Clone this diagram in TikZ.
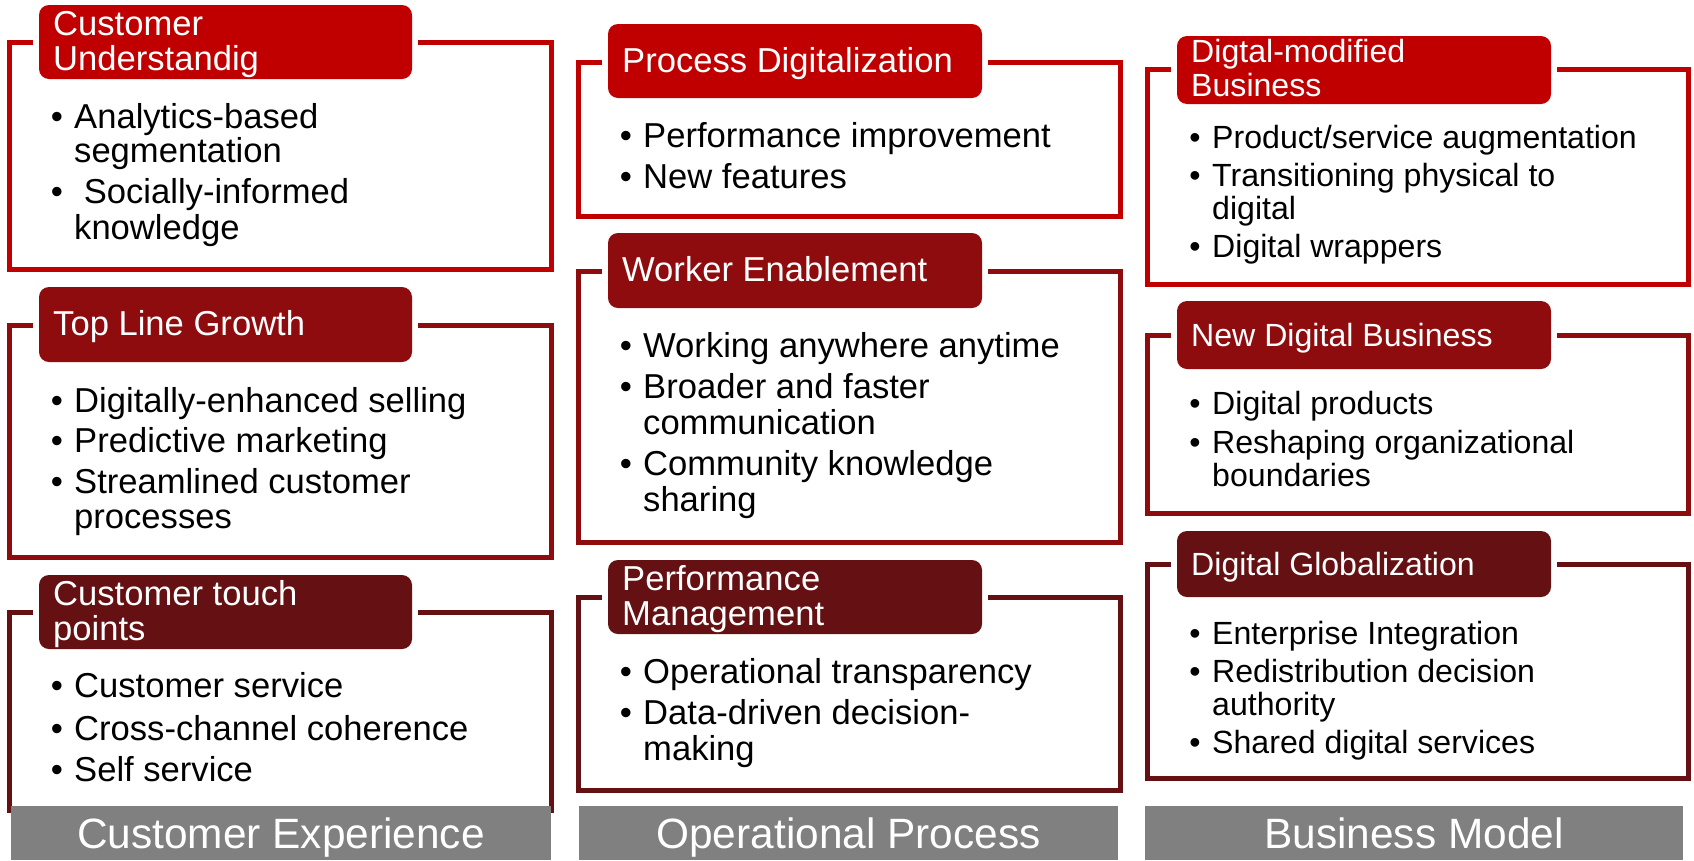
\documentclass[tikz,border=0pt]{standalone}
\usepackage{fontspec}
\setmainfont{Liberation Sans}
\definecolor{rA}{RGB}{192,0,0}
\definecolor{rB}{RGB}{142,12,14}
\definecolor{rC}{RGB}{101,16,18}
\definecolor{barG}{RGB}{128,128,128}
\newcommand\fA{\fontsize{34.6}{36}\selectfont}
\newcommand\fB{\fontsize{32.1}{34}\selectfont}
\newcommand\fG{\fontsize{42.4}{44}\selectfont}
% #1 colour, #2 x1, #3 x2, #4 ytop, #5 ybot, #6 hx1, #7 hx2, #8 hy1, #9 hy2
\newcommand\panel[9]{%
  \draw[frame, draw=#1] (#2,#4) rectangle (#3,#5);
  \fill[white] (#6-6,#8-6) rectangle (#7+6,#9+6);
  \fill[#1, rounded corners=10pt] (#6,#8) rectangle (#7,#9);
}
\tikzset{
  frame/.style={line width=5pt},
  hd/.style={anchor=base west, inner sep=0pt, text=white, font=\fA},
  hdb/.style={anchor=base west, inner sep=0pt, text=white, font=\fB},
  it/.style={anchor=base west, inner sep=0pt, text=black, font=\fA},
  itb/.style={anchor=base west, inner sep=0pt, text=black, font=\fB},
  bl/.style={anchor=base, inner sep=0pt, text=black, font=\fA},
  blb/.style={anchor=base, inner sep=0pt, text=black, font=\fB},
  bar/.style={fill=barG},
  barlbl/.style={anchor=base, inner sep=0pt, text=white, font=\fG},
}
\begin{document}
\begin{tikzpicture}[x=1pt,y=-1pt]
\useasboundingbox[fill=white] (0,0) rectangle (1694,860);

% ---------------- Column 1 ----------------
\panel{rA}{9}{551}{42}{269}{39}{412}{5}{79}
\panel{rB}{9}{551}{325}{557}{39}{412}{287}{362}
\panel{rC}{9}{551}{612}{810}{39}{412}{575}{649}

\node[hd] (a1h1) at (53,35) {Customer};
\node[hd] (a1h2) at (53,70) {Understandig};
\node[bl] (a1b1) at (57,128) {•};
\node[it] (a1t1) at (74,128) {Analytics-based};
\node[it] (a1t2) at (74,162) {segmentation};
\node[bl] (a1b2) at (57,203) {•};
\node[it] (a1t3) at (74,203) {\ Socially-informed};
\node[it] (a1t4) at (74,239) {knowledge};

\node[hd] (a2h1) at (53,335) {Top Line Growth};
\node[bl] (a2b1) at (57,412) {•};
\node[it] (a2t1) at (74,412) {Digitally-enhanced selling};
\node[bl] (a2b2) at (57,452) {•};
\node[it] (a2t2) at (74,452) {Predictive marketing};
\node[bl] (a2b3) at (57,493) {•};
\node[it] (a2t3) at (74,493) {Streamlined customer};
\node[it] (a2t4) at (74,528) {processes};

\node[hd] (a3h1) at (53,605) {Customer touch};
\node[hd] (a3h2) at (53,640) {points};
\node[bl] (a3b1) at (57,697) {•};
\node[it] (a3t1) at (74,697) {Customer service};
\node[bl] (a3b2) at (57,740) {•};
\node[it] (a3t2) at (74,740) {Cross-channel coherence};
\node[bl] (a3b3) at (57,781) {•};
\node[it] (a3t3) at (74,781) {Self service};

\fill[bar] (11,806) rectangle (551,860);
\node[barlbl] (abar) at (281,848) {Customer Experience};

% ---------------- Column 2 ----------------
\panel{rA}{578}{1120}{62}{216}{608}{982}{24}{98}
\panel{rB}{578}{1120}{271}{542}{608}{982}{233}{308}
\panel{rC}{578}{1120}{597}{790}{608}{982}{560}{634}

\node[hd] (b1h1) at (622,72) {Process Digitalization};
\node[bl] (b1b1) at (626,147) {•};
\node[it] (b1t1) at (643,147) {Performance improvement};
\node[bl] (b1b2) at (626,188) {•};
\node[it] (b1t2) at (643,188) {New features};

\node[hd] (b2h1) at (622,281) {Worker Enablement};
\node[bl] (b2b1) at (626,357) {•};
\node[it] (b2t1) at (643,357) {Working anywhere anytime};
\node[bl] (b2b2) at (626,398) {•};
\node[it] (b2t2) at (643,398) {Broader and faster};
\node[it] (b2t3) at (643,434) {communication};
\node[bl] (b2b3) at (626,475) {•};
\node[it] (b2t4) at (643,475) {Community knowledge};
\node[it] (b2t5) at (643,511) {sharing};

\node[hd] (b3h1) at (622,590) {Performance};
\node[hd] (b3h2) at (622,625) {Management};
\node[bl] (b3b1) at (626,683) {•};
\node[it] (b3t1) at (643,683) {Operational transparency};
\node[bl] (b3b2) at (626,724) {•};
\node[it] (b3t2) at (643,724) {Data-driven decision-};
\node[it] (b3t3) at (643,760) {making};

\fill[bar] (579,806) rectangle (1118,860);
\node[barlbl] (bbar) at (848.5,848) {Operational Process};

% ---------------- Column 3 ----------------
\panel{rA}{1147}{1688}{69}{284}{1177}{1551}{36}{104}
\panel{rB}{1147}{1688}{335}{513}{1177}{1551}{301}{369}
\panel{rC}{1147}{1688}{564}{778}{1177}{1551}{531}{597}

\node[hdb] (c1h1) at (1191,62) {Digtal-modified};
\node[hdb] (c1h2) at (1191,96) {Business};
\node[blb] (c1b1) at (1195,148) {•};
\node[itb] (c1t1) at (1212,148) {Product/service augmentation};
\node[blb] (c1b2) at (1195,186) {•};
\node[itb] (c1t2) at (1212,186) {Transitioning physical to};
\node[itb] (c1t3) at (1212,219) {digital};
\node[blb] (c1b3) at (1195,257) {•};
\node[itb] (c1t4) at (1212,257) {Digital wrappers};

\node[hdb] (c2h1) at (1191,346) {New Digital Business};
\node[blb] (c2b1) at (1195,414) {•};
\node[itb] (c2t1) at (1212,414) {Digital products};
\node[blb] (c2b2) at (1195,453) {•};
\node[itb] (c2t2) at (1212,453) {Reshaping organizational};
\node[itb] (c2t3) at (1212,486) {boundaries};

\node[hdb] (c3h1) at (1191,575) {Digital Globalization};
\node[blb] (c3b1) at (1195,644) {•};
\node[itb] (c3t1) at (1212,644) {Enterprise Integration};
\node[blb] (c3b2) at (1195,682) {•};
\node[itb] (c3t2) at (1212,682) {Redistribution decision};
\node[itb] (c3t3) at (1212,715) {authority};
\node[blb] (c3b3) at (1195,753) {•};
\node[itb] (c3t4) at (1212,753) {Shared digital services};

\fill[bar] (1145,806) rectangle (1683,860);
\node[barlbl] (cbar) at (1414,848) {Business Model};
\end{tikzpicture}
\end{document}
